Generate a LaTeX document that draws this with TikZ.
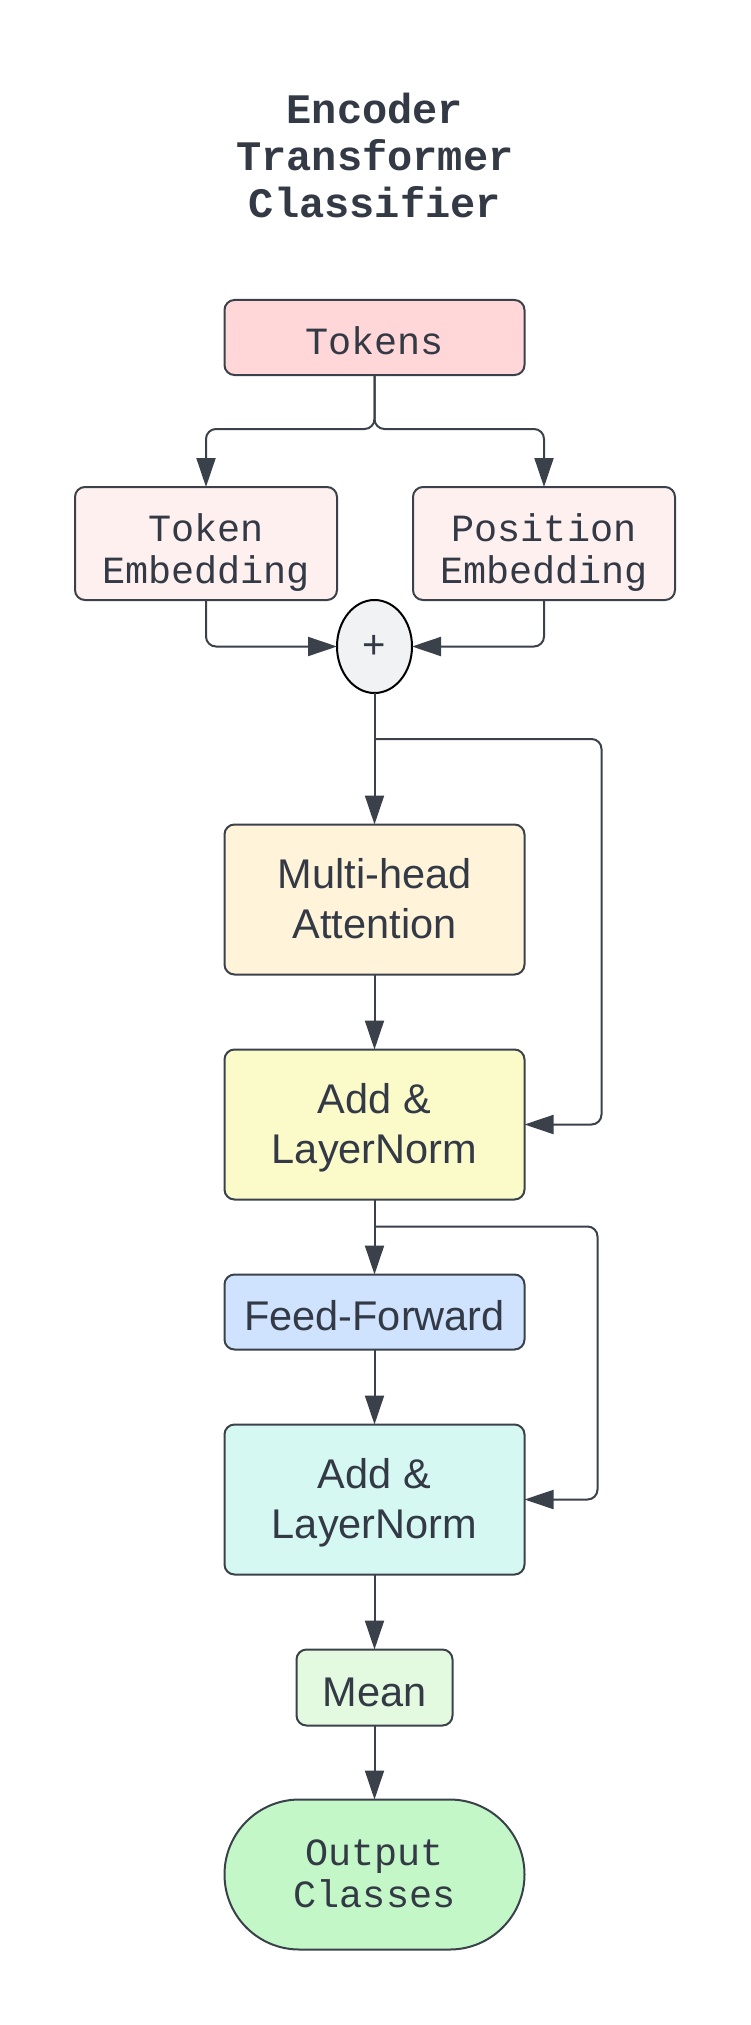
\documentclass[tikz,border=0pt]{standalone}
\usepackage{fontspec}
\setmainfont{Liberation Sans}
\newfontfamily\codefont{Liberation Mono}
\definecolor{lineclr}{HTML}{3A414A}
\definecolor{textclr}{HTML}{333A45}
\definecolor{tokbg}{HTML}{FFD7D9}
\definecolor{embbg}{HTML}{FFF0F0}
\definecolor{sumbg}{HTML}{F1F2F4}
\definecolor{attbg}{HTML}{FFF3DA}
\definecolor{normbg}{HTML}{FBFBCA}
\definecolor{ffbg}{HTML}{CFE3FE}
\definecolor{normbgb}{HTML}{D6F8F3}
\definecolor{meanbg}{HTML}{E3F9E0}
\definecolor{outbg}{HTML}{C3F7C8}
\usepackage{tikz}
\usetikzlibrary{arrows.meta,positioning,shapes.geometric}
\newcommand{\topfix}[1]{\rule{0pt}{#1}}
\newcommand{\botfix}{\rule[-10pt]{0pt}{10pt}}

\begin{document}
\begin{tikzpicture}[
      blk/.style={draw=lineclr, line width=2pt, rounded corners=10pt, text=textclr,
                  minimum width=300pt, minimum height=150pt, inner sep=0pt,
                  outer sep=0pt, font=\fontsize{41.5}{50.5}\selectfont, align=center},
      code/.style={blk, font=\codefont\fontsize{38.5}{42}\selectfont},
      sum/.style={ellipse, draw=black, line width=2pt, fill=sumbg, text=textclr,
                  minimum width=75pt, minimum height=93pt, inner sep=0pt,
                  outer sep=0pt, font=\fontsize{40}{42}\selectfont},
      arr/.style={-{Triangle[length=29pt,width=19pt]}, line width=2pt,
                  color=lineclr, rounded corners=10pt}
  ]
    \useasboundingbox (0,0) rectangle (750pt,-2025pt);
    \node[text=textclr, align=center,
          font=\codefont\bfseries\fontsize{42}{47}\selectfont]
          (ttl) at (375pt,-155pt) {Encoder\\Transformer\\Classifier};
    \node[code, fill=tokbg, minimum height=75pt] (tok) at (374.5pt,-337.5pt)
          {\topfix{43.4pt}Tokens\botfix};
    \node[code, fill=embbg, minimum width=262pt, minimum height=113pt,
          below=112pt of tok, xshift=-168.5pt] (te) {\topfix{48.2pt}Token\\Embedding\botfix};
    \node[code, fill=embbg, minimum width=262pt, minimum height=113pt,
          below=112pt of tok, xshift=169.5pt] (pe) {\topfix{48.2pt}Position\\Embedding\botfix};
    \node[sum, below=225pt of tok] (plus) {+};
    \node[blk, fill=attbg, below=131.5pt of plus] (mha)
          {\topfix{37.7pt}Multi-head\\Attention\botfix};
    \node[blk, fill=normbg, below=75pt of mha] (add1) {\topfix{37.7pt}Add \&\\LayerNorm\botfix};
    \node[blk, fill=ffbg, minimum height=75pt, below=75pt of add1] (ff)
          {\topfix{47pt}Feed-Forward\botfix};
    \node[blk, fill=normbgb, below=75pt of ff] (add2) {\topfix{37.7pt}Add \&\\LayerNorm\botfix};
    \node[blk, fill=meanbg, minimum width=156pt, minimum height=76pt,
          below=75pt of add2] (mean) {\topfix{47pt}Mean\botfix};
    \node[code, fill=outbg, rounded corners=74.9pt, below=74pt of mean] (out)
          {\topfix{34.4pt}Output\\Classes\botfix};
    \draw[arr] (tok.south) -- ++(0,-54pt) -| (te.north);
    \draw[arr] (tok.south) -- ++(0,-54pt) -| (pe.north);
    \draw[arr] (te.south) |- (plus.west);
    \draw[arr] (pe.south) |- (plus.east);
    \draw[arr] (plus.south) -- (mha.north);
    \path (plus.south) ++(0,-46pt) coordinate (j1);
    \draw[arr] (j1) -- ++(227pt,0) |- (add1.east);
    \draw[arr] (mha.south) -- (add1.north);
    \draw[arr] (add1.south) -- (ff.north);
    \path (add1.south) ++(0,-27pt) coordinate (j2);
    \draw[arr] (j2) -- ++(223pt,0) |- (add2.east);
    \draw[arr] (ff.south) -- (add2.north);
    \draw[arr] (add2.south) -- (mean.north);
    \draw[arr] (mean.south) -- (out.north);
  \end{tikzpicture}
\end{document}
